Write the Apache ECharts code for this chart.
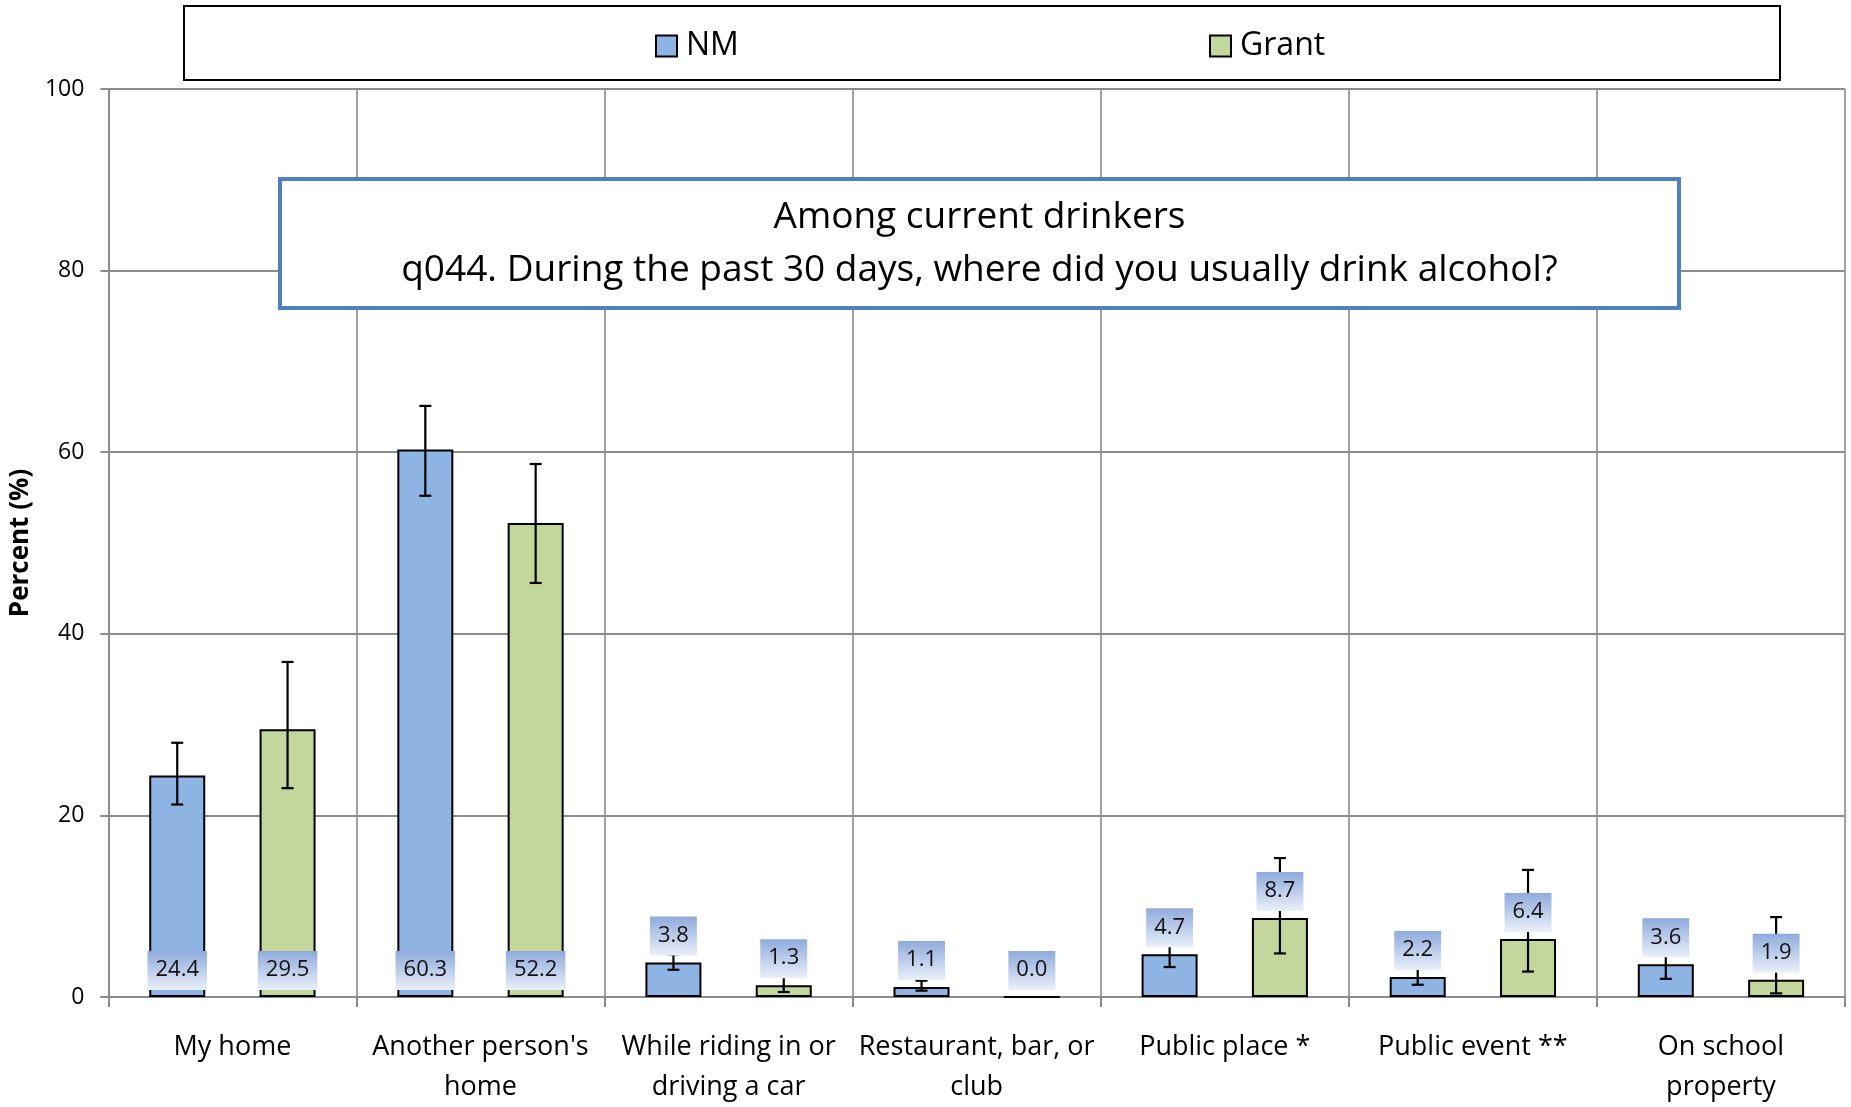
<!DOCTYPE html>
<html>
<head>
<meta charset="utf-8">
<script src="https://cdn.jsdelivr.net/npm/echarts@6/dist/echarts.min.js"></script>
<style>
  html, body { margin: 0; padding: 0; background: #fff; overflow: hidden; }
  #chart { width: 1851px; height: 1107px; }
</style>
</head>
<body>
<div id="chart"></div>
<script>
// ---- data ----
const categories = [
  "My home",
  "Another person's\nhome",
  "While riding in or\ndriving a car",
  "Restaurant, bar, or\nclub",
  "Public place *",
  "Public event **",
  "On school\nproperty"
];
const nmValues    = [24.4, 60.3, 3.8, 1.1, 4.7, 2.2, 3.6];
const grantValues = [29.5, 52.2, 1.3, 0.0, 8.7, 6.4, 1.9];
const nmLow       = [21.2, 55.2, 3.0, 0.7, 3.3, 1.35, 2.0];
const nmHigh      = [28.0, 65.1, 4.7, 1.8, 6.2, 3.4, 5.8];
const grantLow    = [23.0, 45.6, 0.55, null, 4.8, 2.8, 0.4];
const grantHigh   = [36.9, 58.7, 2.9, null, 15.3, 14.0, 8.8];
const seriesNames = ["NM", "Grant"];
const titleLines  = ["Among current drinkers", "q044. During the past 30 days, where did you usually drink alcohol?"];
const yAxisName   = "Percent (%)";
const yMin = 0, yMax = 100, yStep = 20;

// ---- style ----
const FONT = "'Open Sans', 'Noto Sans', sans-serif";
const BAR_W = 56;
const GAP_RATIO = 0.97;
const NM_COLOR = '#8EB4E3';
const GRANT_COLOR = '#C3D69B';
const GRID_COLOR = '#8C8C8C';

const chart = echarts.init(document.getElementById('chart'), null, { renderer: 'canvas' });

const labelGradient = new echarts.graphic.LinearGradient(0, 0, 0, 1, [
  { offset: 0, color: '#8FAADC' },
  { offset: 1, color: '#EAF0F9' }
]);

function labelData(values) {
  return values.map(v => ({
    value: v,
    label: { position: v >= 10 ? 'insideBottom' : 'top' }
  }));
}

function errorData(low, high) {
  const out = [];
  low.forEach((lo, i) => {
    if (lo != null && high[i] != null) out.push([i, lo, high[i]]);
  });
  return out;
}

function makeErrorRender(sign) {
  return function (params, api) {
    const idx = api.value(0);
    const pLo = api.coord([idx, api.value(1)]);
    const pHi = api.coord([idx, api.value(2)]);
    const off = sign * (BAR_W + BAR_W * GAP_RATIO) / 2;
    const x = pLo[0] + off;
    const cap = 6;
    const style = { stroke: '#000', lineWidth: 2.2 };
    return {
      type: 'group',
      children: [
        { type: 'line', shape: { x1: x, y1: pLo[1], x2: x, y2: pHi[1] }, style },
        { type: 'line', shape: { x1: x - cap, y1: pLo[1], x2: x + cap, y2: pLo[1] }, style },
        { type: 'line', shape: { x1: x - cap, y1: pHi[1], x2: x + cap, y2: pHi[1] }, style }
      ]
    };
  };
}

const valueLabel = {
  show: true,
  formatter: p => Number(p.value).toFixed(1),
  fontFamily: FONT,
  fontSize: 22,
  lineHeight: 22,
  color: '#111',
  backgroundColor: labelGradient,
  padding: [8, 8, 9, 8],
  distance: 7
};

const option = {
  animation: false,
  backgroundColor: '#fff',
  grid: { left: 107, right: 6, top: 89, bottom: 104, containLabel: false },
  legend: [
    {
      data: [seriesNames[0]], left: 655, top: 30, padding: 0,
      icon: 'rect', itemWidth: 21, itemHeight: 21,
      textStyle: { fontFamily: FONT, fontSize: 32, color: '#000', padding: [0, 0, 0, 4] },
      selectedMode: false
    },
    {
      data: [seriesNames[1]], left: 1209, top: 30, padding: 0,
      icon: 'rect', itemWidth: 21, itemHeight: 21,
      textStyle: { fontFamily: FONT, fontSize: 32, color: '#000', padding: [0, 0, 0, 4] },
      selectedMode: false
    }
  ],
  xAxis: [
    {
      type: 'category',
      data: categories,
      boundaryGap: true,
      axisLine: { show: true, lineStyle: { color: GRID_COLOR, width: 2 } },
      axisTick: { show: true, length: 10, lineStyle: { color: GRID_COLOR, width: 2 } },
      splitLine: { show: true, interval: 0, lineStyle: { color: GRID_COLOR, width: 1.6 } },
      axisLabel: {
        interval: 0, margin: 30, fontFamily: FONT, fontSize: 27, lineHeight: 40, color: '#000'
      }
    },
    {
      type: 'category',
      data: categories,
      show: false
    }
  ],
  yAxis: {
    type: 'value',
    min: yMin, max: yMax, interval: yStep,
    name: yAxisName,
    nameLocation: 'middle',
    nameGap: 57,
    nameTextStyle: { fontFamily: FONT, fontSize: 26, fontWeight: 'bold', color: '#000' },
    axisLine: { show: true, lineStyle: { color: GRID_COLOR, width: 2 } },
    axisTick: { show: true, length: 8, lineStyle: { color: GRID_COLOR, width: 2 } },
    splitLine: { show: true, lineStyle: { color: GRID_COLOR, width: 2 } },
    axisLabel: { margin: 24, fontFamily: FONT, fontSize: 23, color: '#000' }
  },
  graphic: [
    {
      type: 'rect', z: 100,
      shape: { x: 184, y: 6, width: 1596, height: 74 },
      style: { fill: 'none', stroke: '#000', lineWidth: 2 }
    },
    {
      type: 'rect', z: 100,
      shape: { x: 280, y: 179, width: 1399, height: 129 },
      style: { fill: '#fff', stroke: '#4F81BD', lineWidth: 4 }
    },
    {
      type: 'text', z: 101,
      x: 979.5, y: 243.5,
      style: {
        text: titleLines.join('\n'),
        font: "37px 'Open Sans', sans-serif",
        fill: '#000',
        align: 'center',
        verticalAlign: 'middle',
        lineHeight: 53
      }
    }
  ],
  series: [
    {
      name: seriesNames[0], type: 'bar', z: 2,
      barWidth: BAR_W, barGap: (GAP_RATIO * 100) + '%',
      data: nmValues,
      itemStyle: { color: NM_COLOR, borderColor: '#000', borderWidth: 2 }
    },
    {
      name: seriesNames[1], type: 'bar', z: 2,
      barWidth: BAR_W, barGap: (GAP_RATIO * 100) + '%',
      data: grantValues,
      itemStyle: { color: GRANT_COLOR, borderColor: '#000', borderWidth: 2 }
    },
    {
      name: 'NM error', type: 'custom', z: 3,
      renderItem: makeErrorRender(-1),
      encode: { x: 0, y: [1, 2] },
      data: errorData(nmLow, nmHigh)
    },
    {
      name: 'Grant error', type: 'custom', z: 3,
      renderItem: makeErrorRender(1),
      encode: { x: 0, y: [1, 2] },
      data: errorData(grantLow, grantHigh)
    },
    {
      name: 'NM label', type: 'bar', xAxisIndex: 1, z: 4, silent: true,
      barWidth: BAR_W, barGap: (GAP_RATIO * 100) + '%',
      data: labelData(nmValues),
      itemStyle: { color: 'rgba(0,0,0,0)', borderWidth: 0 },
      label: valueLabel
    },
    {
      name: 'Grant label', type: 'bar', xAxisIndex: 1, z: 4, silent: true,
      barWidth: BAR_W, barGap: (GAP_RATIO * 100) + '%',
      data: labelData(grantValues),
      itemStyle: { color: 'rgba(0,0,0,0)', borderWidth: 0 },
      label: valueLabel
    }
  ]
};

chart.setOption(option);
</script>
</body>
</html>
